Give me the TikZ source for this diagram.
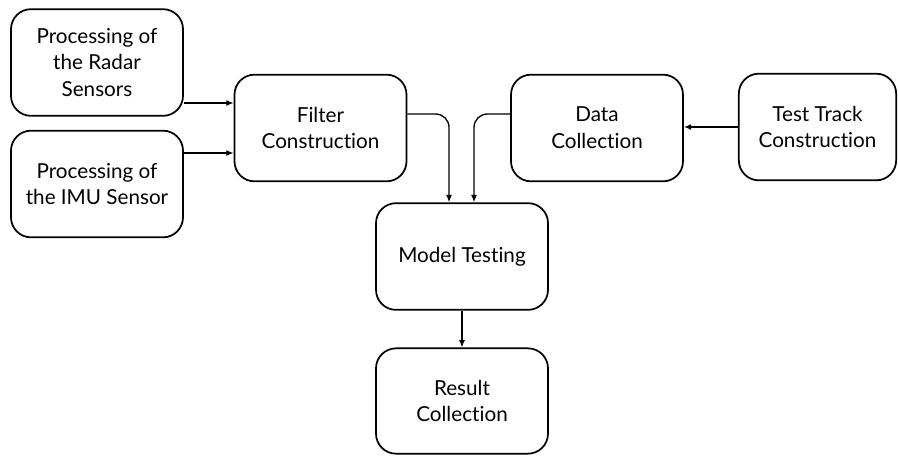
\documentclass[tikz,border=0pt]{standalone}
\usepackage{fontspec}
\setmainfont{Lato}[Ligatures={NoCommon,NoDiscretionary}]
\usetikzlibrary{calc,arrows.meta}

\tikzset{
  stage/.style={draw, line width=1.3pt, rounded corners=15pt, align=center,
    minimum width=129pt, minimum height=80pt, inner sep=2pt,
    font=\fontsize{15.5}{20}\selectfont},
  link/.style={line width=1pt, -{Latex[length=5.5pt,width=4.5pt]}, rounded corners=10pt}
}

\begin{document}
\begin{tikzpicture}[x=0.75pt, y=-0.75pt]
    \useasboundingbox (0,0) rectangle (898,455);

    % left column: sensor processing
    \node [stage] (radar) at (97,62.5) {Processing of\\the Radar\\Sensors};
    \node [stage] (imu) at (97,184) {Processing of\\the IMU Sensor};

    % upper row
    \node [stage] (filter) at (320.5,128) {Filter\\Construction};
    \node [stage] (data) at (597,128) {Data\\Collection};
    \node [stage, minimum width=118pt] (track) at (817.5,127) {Test Track\\Construction};

    % middle column
    \node [stage] (model) at (462,256.5) {Model Testing};
    \node [stage, minimum height=79pt] (result) at (462,401) {Result\\Collection};

    \draw [link] (radar.east |- 0,103) -- (filter.west |- 0,103);
    \draw [link] (imu.east |- 0,153) -- (filter.west |- 0,153);
    \draw [link] (filter.east |- 0,114) -| (model.north -| 449,0);
    \draw [link] (data.west |- 0,114) -| (model.north -| 474,0);
    \draw [link] (track.west) -- (data.east |- track.west);
    \draw [link] (model.south) -- (result.north);
  \end{tikzpicture}
\end{document}
